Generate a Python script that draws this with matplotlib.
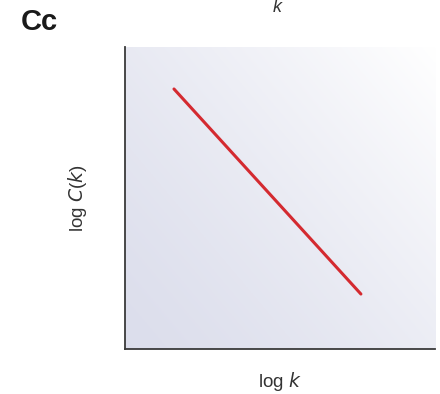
import numpy as np
import matplotlib
import matplotlib.pyplot as plt

matplotlib.use('Agg')

plt.rcParams['font.family'] = ['Liberation Sans', 'DejaVu Sans']

# power-law decay of clustering coefficient, on log-log axes
log_k = [0.158, 0.761]
log_ck = [0.861, 0.182]

fig = plt.figure(figsize=(4.4, 3.94), dpi=100)
ax = fig.add_axes([125 / 440, 1 - 349 / 394, 310 / 440, 302 / 394])

# soft lavender-to-white background, running from bottom-left to top-right
gx, gy = np.meshgrid(np.linspace(0, 1, 200), np.linspace(0, 1, 200))
t = np.clip((gx * 1.1 + gy * 0.9) / 2.0, 0, 1) ** 1.3
c0 = np.array([0.862, 0.870, 0.925])
c1 = np.array([1.0, 1.0, 1.0])
img = c0[None, None, :] * (1 - t[..., None]) + c1[None, None, :] * t[..., None]
ax.imshow(img, extent=[0, 1, 0, 1], origin='lower', aspect='auto', zorder=0)

ax.plot(log_k, log_ck, color='#d42a30', lw=2.2, solid_capstyle='round', zorder=2)

ax.set_xlim(0, 1)
ax.set_ylim(0, 1)
ax.set_xticks([])
ax.set_yticks([])
for side in ['top', 'right']:
    ax.spines[side].set_visible(False)
for side in ['left', 'bottom']:
    ax.spines[side].set_color('#3a3a3a')
    ax.spines[side].set_linewidth(1.3)

ax.set_xlabel('log $\\mathit{k}$', fontsize=13.5, color='#333333', labelpad=15)
ax.set_ylabel('log $\\mathit{C}$($\\mathit{k}$)', fontsize=13.5, color='#333333', labelpad=26)

fig.text(21 / 440, 1 - 22 / 394, 'Cc', fontsize=21, fontweight='bold', color='#1a1a1a',
         va='center', ha='left')
fig.text(277 / 440, 1 - 8 / 394, 'k', fontsize=13, style='italic', color='#333333',
         va='center', ha='center')

fig.savefig('out.png', dpi=100)
